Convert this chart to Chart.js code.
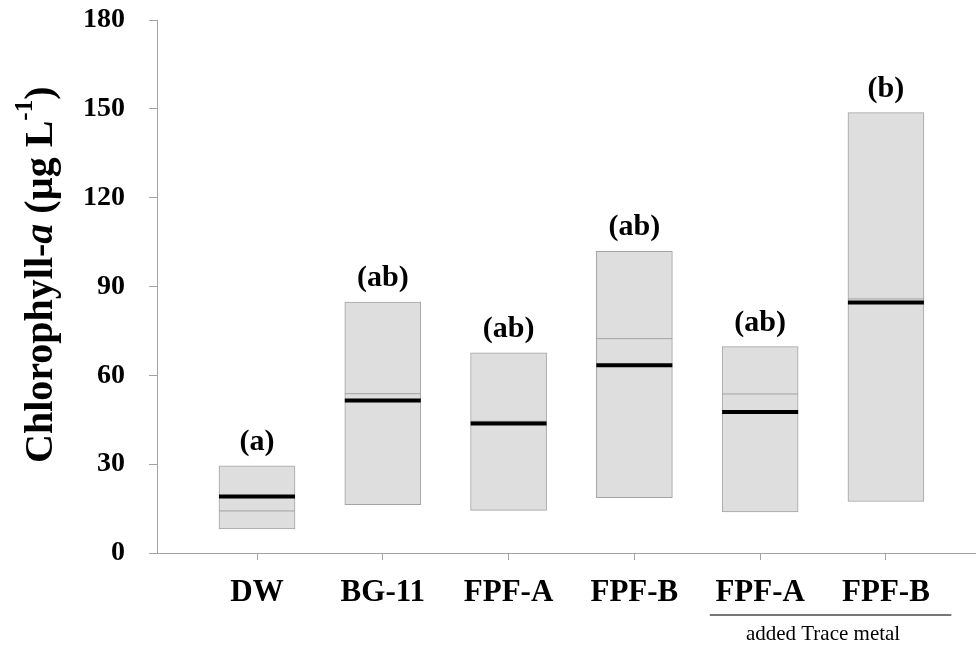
<!DOCTYPE html>
<html>
<head>
<meta charset="utf-8">
<script src="https://cdn.jsdelivr.net/npm/chart.js@4.4.1/dist/chart.umd.min.js"></script>
<style>
  body { margin: 0; background: #fff; }
  #box { width: 976px; height: 646px; }
</style>
</head>
<body>
<div id="box"><canvas id="grafico" width="976" height="646"></canvas></div>
<script>
// dati
var categorie = ['DW', 'BG-11', 'FPF-A', 'FPF-B', 'FPF-A', 'FPF-B'];
var valoriMin = [8.1, 16.3, 14.4, 18.7, 13.9, 17.4];
var valoriMax = [29.4, 84.7, 67.6, 101.9, 69.7, 148.7];
var valoriMedia = [19.1, 51.5, 43.7, 63.4, 47.6, 84.6];
var valoriMediana = [14.2, 53.8, 44.5, 72.4, 53.7, 85.8];
var lettere = ['(a)', '(ab)', '(ab)', '(ab)', '(ab)', '(b)'];
var tickY = [0, 30, 60, 90, 120, 150, 180];

var font = "'Liberation Serif', 'Times New Roman', serif";
var grigio = '#a3a3a3';

function puntiDa(valori) {
  return valori.map(function (v, i) { return { x: i, y: v }; });
}

// titolo asse y, lettere sopra le barre e nota "added Trace metal"
var testiExtra = {
  id: 'testiExtra',
  afterDatasetsDraw: function (chart) {
    var ctx = chart.ctx;
    var sx = chart.scales.x;
    var sy = chart.scales.y;

    ctx.save();
    ctx.fillStyle = '#000';
    ctx.textAlign = 'center';
    ctx.textBaseline = 'alphabetic';
    ctx.font = 'bold 30px ' + font;
    for (var i = 0; i < lettere.length; i++) {
      ctx.fillText(lettere[i], sx.getPixelForValue(i), sy.getPixelForValue(valoriMax[i]) - 16);
    }

    // linea e testo sotto gli ultimi due gruppi
    var x1 = sx.getPixelForValue(3.6);
    var x2 = sx.getPixelForValue(5.52);
    ctx.strokeStyle = '#777';
    ctx.lineWidth = 2;
    ctx.beginPath();
    ctx.moveTo(x1, 615);
    ctx.lineTo(x2, 615);
    ctx.stroke();
    ctx.font = '21px ' + font;
    ctx.fillText('added Trace metal', sx.getPixelForValue(4.5), 640);
    ctx.restore();

    // titolo ruotato con corsivo e apice
    ctx.save();
    ctx.translate(52, 463);
    ctx.rotate(-Math.PI / 2);
    ctx.textAlign = 'left';
    ctx.textBaseline = 'alphabetic';
    ctx.fillStyle = '#000';
    var pezzi = [
      { t: 'Chlorophyll-', f: 'bold 40px ' + font, dy: 0 },
      { t: 'a', f: 'italic bold 40px ' + font, dy: 0 },
      { t: ' (\u00b5g L', f: 'bold 40px ' + font, dy: 0 },
      { t: '-1', f: 'bold 25px ' + font, dy: -20 },
      { t: ')', f: 'bold 40px ' + font, dy: 0 }
    ];
    var x = 0;
    pezzi.forEach(function (p) {
      ctx.font = p.f;
      ctx.fillText(p.t, x, p.dy);
      x += ctx.measureText(p.t).width;
    });
    ctx.restore();
  }
};

var grafico = new Chart(document.getElementById('grafico').getContext('2d'), {
  type: 'bar',
  data: {
    datasets: [
      {
        type: 'line',
        label: 'media',
        data: puntiDa(valoriMedia),
        showLine: false,
        pointStyle: 'line',
        pointRadius: 38,
        pointBorderWidth: 4,
        pointBorderColor: '#000',
        order: 1
      },
      {
        type: 'line',
        label: 'mediana',
        data: puntiDa(valoriMediana),
        showLine: false,
        pointStyle: 'line',
        pointRadius: 38,
        pointBorderWidth: 1,
        pointBorderColor: grigio,
        order: 2
      },
      {
        label: 'min-max',
        data: valoriMin.map(function (v, i) { return { x: i, y: [v, valoriMax[i]] }; }),
        backgroundColor: '#dedede',
        borderColor: grigio,
        borderWidth: 1,
        borderSkipped: false,
        barThickness: 76,
        order: 3
      }
    ]
  },
  options: {
    responsive: false,
    animation: false,
    layout: { autoPadding: false, padding: { top: 20, right: 0, bottom: 0, left: 0 } },
    plugins: {
      legend: { display: false },
      tooltip: { enabled: false }
    },
    scales: {
      x: {
        type: 'linear',
        min: -0.795,
        max: 5.716,
        offset: false,
        afterBuildTicks: function (s) {
          s.ticks = categorie.map(function (c, i) { return { value: i }; });
        },
        afterFit: function (s) {
          s.height = 93;
          s.paddingLeft = 0;
          s.paddingRight = 0;
        },
        grid: { offset: false, drawOnChartArea: false, color: grigio, tickLength: 7 },
        border: { color: grigio, width: 1 },
        ticks: {
          autoSkip: false,
          maxRotation: 0,
          padding: 14,
          color: '#000',
          font: { family: font, size: 31, weight: 'bold' },
          callback: function (v) { return categorie[v]; }
        }
      },
      y: {
        min: 0,
        max: 180,
        afterBuildTicks: function (s) {
          s.ticks = tickY.map(function (v) { return { value: v }; });
        },
        afterFit: function (s) {
          s.width = 157;
          s.paddingTop = 0;
          s.paddingBottom = 0;
        },
        grid: { drawOnChartArea: false, color: grigio, tickLength: 8 },
        border: { color: grigio, width: 1 },
        ticks: {
          padding: 24,
          color: '#000',
          font: { family: font, size: 28, weight: 'bold' }
        }
      }
    }
  },
  plugins: [testiExtra]
});
</script>
</body>
</html>
